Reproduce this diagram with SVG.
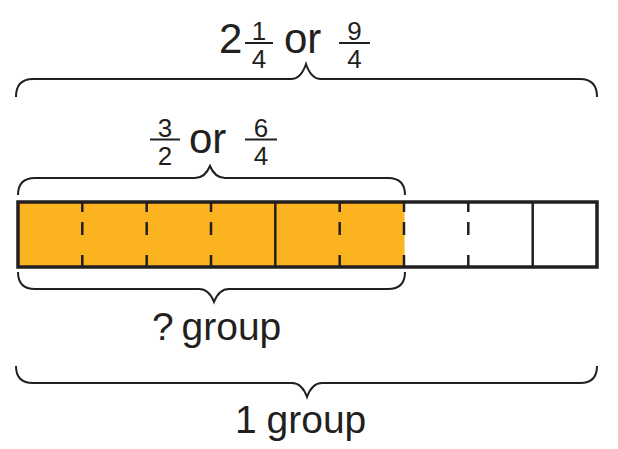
<svg xmlns="http://www.w3.org/2000/svg" width="618" height="449" viewBox="0 0 618 449">
<style>
.t{font-family:"Liberation Sans","Open Sans",sans-serif;fill:#231f20}
.big{font-size:42px}
.lab{font-size:39px}
.fr{font-size:26px;text-anchor:middle}
.br{fill:none;stroke:#231f20;stroke-width:2}
.bar{stroke:#231f20;stroke-width:2}
.div{stroke:#231f20;stroke-width:2.5}
</style>
<rect width="618" height="449" fill="#fff"/>
<g id="tape">
<rect x="18" y="202" width="386.5" height="65" fill="#FBB31F"/>
<g class="div">
<path d="M82.3,202V212M82.3,222V235M82.3,255V267"/>
<path d="M146.7,202V212M146.7,222V235M146.7,255V267"/>
<path d="M211,202V212M211,222V235M211,255V267"/>
<path d="M275.3,202V267"/>
<path d="M339.7,202V212M339.7,222V235M339.7,255V267"/>
<path d="M404,202V212M404,222V235M404,255V267"/>
<path d="M468.3,202V212M468.3,222V235M468.3,255V267"/>
<path d="M532.7,202V267"/>
</g>
<rect x="18" y="202" width="579" height="65" fill="none" stroke="#231f20" stroke-width="3.5"/>
</g>
<g id="connectors">
<path class="br" d="M16,97 Q16,79 33,79 L291,79 Q301,79 306,64 Q311,79 321,79 L580,79 Q597,79 597,97"/>
<path class="br" d="M18,195 Q18,178 35,178 L195,178 Q205,178 210,166 Q215,178 225,178 L388,178 Q405,178 405,195"/>
<path class="br" d="M18,272 Q18,289 35,289 L199,289 Q209,289 214,302 Q219,289 229,289 L388,289 Q405,289 405,272"/>
<path class="br" d="M16,366 Q16,383 33,383 L292,383 Q302,383 307,397 Q312,383 322,383 L580,383 Q597,383 597,366"/>
</g>
<g id="label-total">
<text class="t big" x="219" y="53">2</text>
<text class="t fr" x="259" y="39.5">1</text>
<line class="bar" x1="245" y1="43" x2="273" y2="43"/>
<text class="t fr" x="259" y="68">4</text>
<text class="t big" x="284" y="53">or</text>
<text class="t fr" x="354.5" y="39.5">9</text>
<line class="bar" x1="339" y1="43" x2="370" y2="43"/>
<text class="t fr" x="354.5" y="68">4</text>
</g>
<g id="label-part">
<text class="t fr" x="165" y="136.5">3</text>
<line class="bar" x1="150" y1="139.5" x2="180" y2="139.5"/>
<text class="t fr" x="165" y="165">2</text>
<text class="t big" x="189" y="153">or</text>
<text class="t fr" x="261" y="136.5">6</text>
<line class="bar" x1="245" y1="139.5" x2="277" y2="139.5"/>
<text class="t fr" x="261" y="165">4</text>
</g>
<g id="label-question">
<text class="t lab" x="152" y="340" word-spacing="-3">? group</text>
</g>
<g id="label-one">
<text class="t lab" x="235" y="433" word-spacing="-1">1 group</text>
</g>
</svg>
